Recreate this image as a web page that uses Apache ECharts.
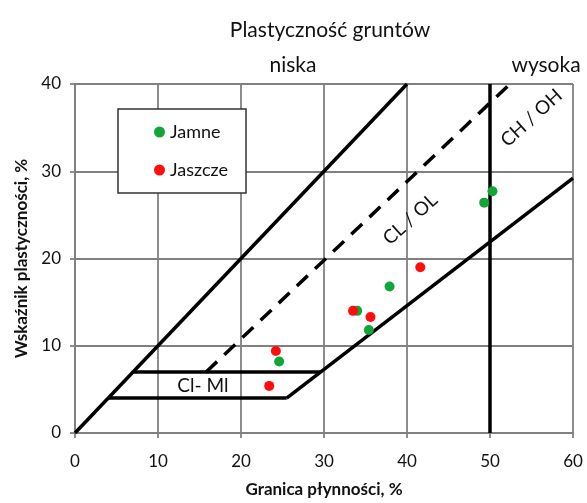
<!DOCTYPE html>
<html><head><meta charset="utf-8">
<script src="https://cdn.jsdelivr.net/npm/echarts@6/dist/echarts.min.js"></script>
<style>html,body{margin:0;padding:0;background:#fff;overflow:hidden}#c{width:587px;height:503px}</style>
</head><body><div id="c"></div>
<script>
// Data
const xTicks = [0, 10, 20, 30, 40, 50, 60];
const yTicks = [0, 10, 20, 30, 40];
const jamne = [[24.6, 8.2], [34.0, 14.0], [35.4, 11.8], [37.9, 16.8], [49.3, 26.4], [50.3, 27.7]];
const jaszcze = [[24.2, 9.4], [23.4, 5.4], [33.5, 14.0], [35.6, 13.3], [41.6, 19.0]];
// Boundary lines of the plasticity chart
const upperLine = [[0, 0], [40, 40]];
const aLine = [[25.5, 4], [60, 29.2]];
const uLine = [[15.8, 7], [52.4, 40]];
const clml4 = [[4, 4], [25.5, 4]];
const clml7 = [[7, 7], [29.6, 7]];
const llLine = [[50, 0], [50, 40]];
const zoneLabels = [
  {name: 'CL / OL', value: [40.4, 24.5], rot: 42, size: 19},
  {name: 'CH / OH', value: [55.0, 36.1], rot: 42, size: 19},
  {name: 'Cl- Ml', value: [15.4, 5.4], rot: 0, size: 19}
];

const FONT = 'Lato';
const chart = echarts.init(document.getElementById('c'), null, {width: 587, height: 503});
const lineS = (data, dashed) => ({
  type: 'line', data: data, symbol: 'none', silent: true, z: 3,
  lineStyle: {color: '#000', width: 3.5, type: dashed ? [15, 10] : 'solid', opacity: 1}
});
const tStyle = (size) => ({fontSize: size, fontWeight: 'normal', color: '#111', fontFamily: FONT});
chart.setOption({
  animation: false,
  textStyle: {fontFamily: FONT},
  title: [
    {text: 'Plastyczność gruntów', left: 325, top: 15, textAlign: 'center', textStyle: tStyle(21)},
    {text: 'niska', left: 288, top: 50, textAlign: 'center', textStyle: tStyle(21)},
    {text: 'wysoka', left: 541, top: 50, textAlign: 'center', textStyle: tStyle(21)}
  ],
  grid: {left: 75, top: 84, width: 498, height: 352},
  legend: {
    data: ['Jamne', 'Jaszcze'], orient: 'vertical', left: 118, top: 109,
    borderColor: '#333', borderWidth: 1.5, backgroundColor: '#fff',
    padding: [14, 18, 14, 36], itemGap: 20, itemWidth: 11, itemHeight: 11,
    textStyle: {fontSize: 18, color: '#111', fontFamily: FONT}
  },
  xAxis: {
    type: 'value', min: 0, max: 60, interval: 10,
    name: 'Granica płynności, %', nameLocation: 'middle', nameGap: 48,
    nameTextStyle: {fontSize: 17, fontWeight: 'bold', color: '#111', fontFamily: FONT},
    axisLine: {show: true, lineStyle: {color: '#808080', width: 1.8}},
    axisTick: {show: true, length: 5, lineStyle: {color: '#808080', width: 1.8}},
    axisLabel: {fontSize: 17, color: '#111', margin: 20,
      formatter: v => xTicks.includes(v) ? String(v) : ''},
    splitLine: {show: true, lineStyle: {color: '#808080', width: 1.8}}
  },
  yAxis: {
    type: 'value', min: 0, max: 40, interval: 10,
    name: 'Wskaźnik plastyczności, %', nameLocation: 'middle', nameGap: 45,
    nameTextStyle: {fontSize: 17, fontWeight: 'bold', color: '#111', fontFamily: FONT},
    axisLine: {show: true, lineStyle: {color: '#808080', width: 1.8}},
    axisTick: {show: true, length: 5, lineStyle: {color: '#808080', width: 1.8}},
    axisLabel: {fontSize: 17, color: '#111', margin: 14,
      formatter: v => yTicks.includes(v) ? String(v) : ''},
    splitLine: {show: true, lineStyle: {color: '#808080', width: 1.8}}
  },
  series: [
    lineS(upperLine), lineS(aLine), lineS(uLine, true), lineS(clml4), lineS(clml7), lineS(llLine),
    {type: 'scatter', name: 'Jamne', data: jamne, symbol: 'circle', symbolSize: 10, z: 5,
     itemStyle: {color: '#12a538', opacity: 1}},
    {type: 'scatter', name: 'Jaszcze', data: jaszcze, symbol: 'circle', symbolSize: 10, z: 5,
     itemStyle: {color: '#ff0d0d', opacity: 1}},
    {type: 'scatter', data: zoneLabels.map(d => ({value: d.value, name: d.name,
       label: {rotate: d.rot, fontSize: d.size}})), symbolSize: 0, silent: true, z: 6,
     itemStyle: {opacity: 1},
     label: {show: true, position: 'inside', formatter: p => p.name,
       color: '#111', fontFamily: FONT, opacity: 1}}
  ]
});
</script></body></html>
